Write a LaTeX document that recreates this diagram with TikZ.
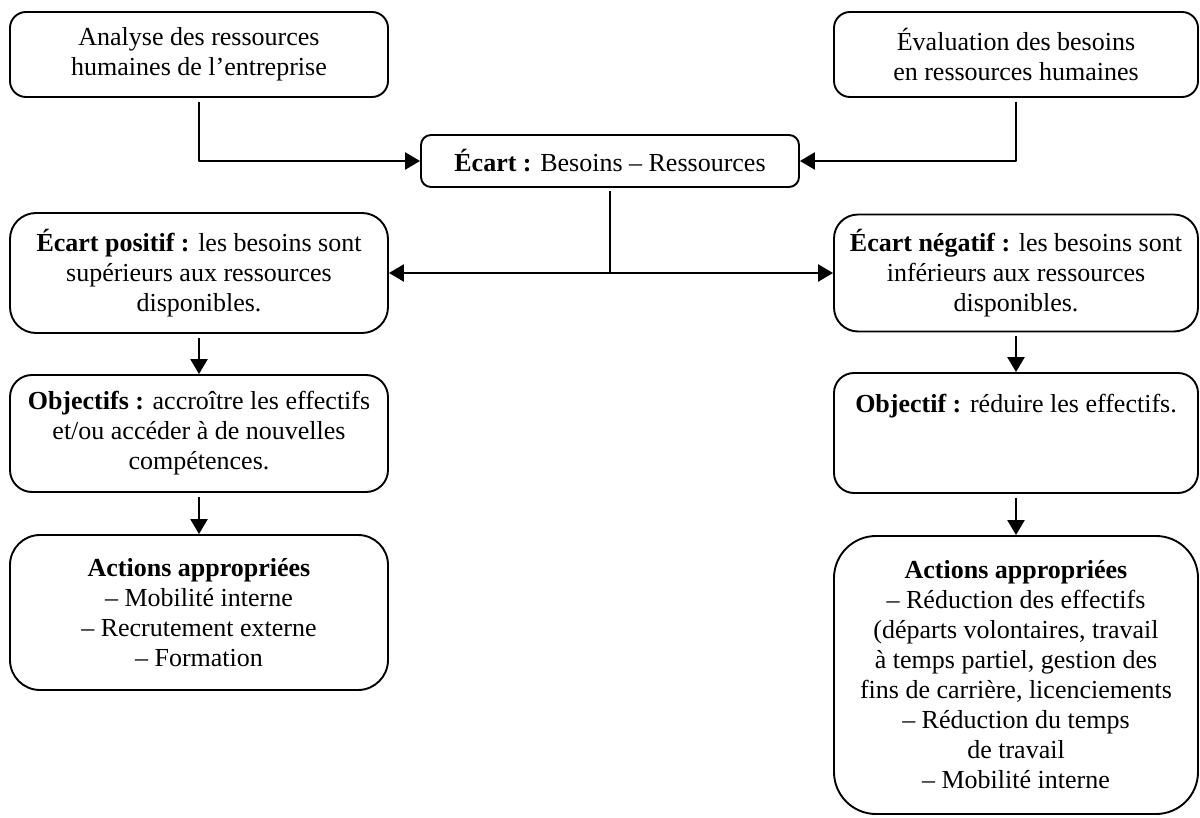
\documentclass[tikz,border=0pt]{standalone}
\usepackage{fontspec}
\setmainfont{Liberation Serif}
\usetikzlibrary{arrows.meta}
\begin{document}
\begin{tikzpicture}[x=1pt, y=-1pt, line join=round, >={Triangle[length=15pt,width=17pt]},
	box/.style={draw, line width=1.9pt, align=center, inner sep=0pt, font=\fontsize{26}{30}\selectfont},
	conn/.style={->, line width=2.4pt, shorten <=4pt}]
	\useasboundingbox (0,0) rectangle (1200,818);
	\node[box, minimum width=378, minimum height=85, rounded corners=16] (anal) at (199,54.5) {Analyse des ressources\\humaines de l’entreprise};
	\node[box, minimum width=364, minimum height=85, rounded corners=16] (eval) at (1016,54.5) {Évaluation des besoins\\en ressources humaines};
	\node[box, minimum width=378, minimum height=52, rounded corners=10] (ecart) at (610,161) {\textbf{Écart :} Besoins – Ressources};
	\node[box, minimum width=378, minimum height=120, rounded corners=26] (pos) at (199,273) {\textbf{Écart positif :} les besoins sont\\supérieurs aux ressources\\disponibles.};
	\node[box, minimum width=364, minimum height=117, rounded corners=24] (neg) at (1016,273) {\textbf{Écart négatif :} les besoins sont\\inférieurs aux ressources\\disponibles.};
	\node[box, minimum width=378, minimum height=117, rounded corners=22] (objpos) at (199,433.5) {\textbf{Objectifs :} accroître les effectifs\\et/ou accéder à de nouvelles\\compétences.};
	\node[box, minimum width=364, minimum height=120, rounded corners=20] (objneg) at (1016,433) {\textbf{Objectif :} réduire les effectifs.\\\mbox{}\\\mbox{}};
	\node[box, minimum width=378, minimum height=155, rounded corners=30] (actpos) at (199,612.5) {\textbf{Actions appropriées}\\– Mobilité interne\\– Recrutement externe\\– Formation};
	\node[box, minimum width=364, minimum height=278, rounded corners=42] (actneg) at (1016,675) {\textbf{Actions appropriées}\\– Réduction des effectifs\\(départs volontaires, travail\\à temps partiel, gestion des\\fins de carrière, licenciements\\– Réduction du temps\\de travail\\– Mobilité interne};
	\coordinate (split) at (ecart.south |- pos.east);
	\draw[conn] (anal.south) |- (ecart.west);
	\draw[conn] (eval.south) |- (ecart.east);
	\draw[line width=2.4pt, shorten <=3pt] (ecart.south) -- (split);
	\draw[->, line width=2.4pt] (split) -- (pos.east);
	\draw[->, line width=2.4pt] (split) -- (neg.west);
	\draw[conn] (pos.south) -- (objpos.north);
	\draw[conn] (neg.south) -- (objneg.north);
	\draw[conn] (objpos.south) -- (actpos.north);
	\draw[conn] (objneg.south) -- (actneg.north);
\end{tikzpicture}
\end{document}
